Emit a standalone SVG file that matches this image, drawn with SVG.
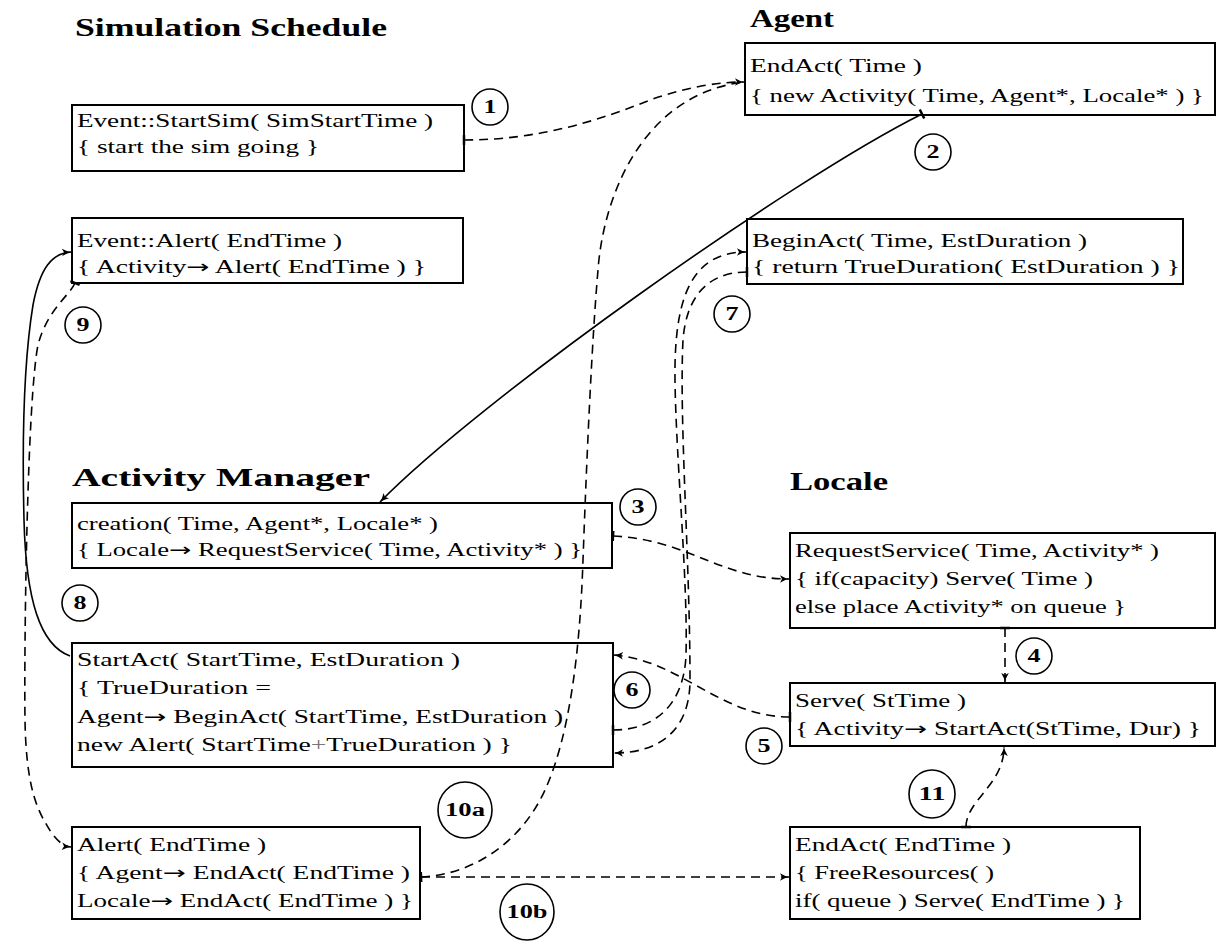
<svg xmlns="http://www.w3.org/2000/svg" width="1217" height="945" viewBox="0 0 1217 945">
<style>
.box{fill:#fff;stroke:#000;stroke-width:2}
.t{font-family:"Liberation Serif",serif;font-size:18px;fill:#000}
.ar{font-family:"DejaVu Sans",sans-serif}
.h{font-family:"Liberation Serif",serif;font-size:25px;font-weight:bold;fill:#000}
.lbl{font-family:"Liberation Serif",serif;font-size:18px;font-weight:bold;text-anchor:middle;fill:#000}
.c{fill:#fff;stroke:#000;stroke-width:1.6}
.d{fill:none;stroke:#000;stroke-width:1.6;stroke-dasharray:9 6}
.s{fill:none;stroke:#000;stroke-width:1.6}
</style>
<defs>
<marker id="arr" viewBox="-10 -5 12 10" markerWidth="12" markerHeight="10" refX="0" refY="0" orient="auto" markerUnits="userSpaceOnUse">
<path d="M-9,-3.8 Q-4,-0.8 0,0 Q-4,0.8 -9,3.8 L-7,0 Z" fill="#000"/>
</marker>
<marker id="tee" viewBox="-2 -6 4 12" markerWidth="4" markerHeight="12" refX="0" refY="0" orient="auto" markerUnits="userSpaceOnUse">
<path d="M0,-5 L0,5" stroke="#000" stroke-width="2.5"/>
</marker>
</defs>
<rect width="1217" height="945" fill="#fff"/>

<g id="titles">
<text class="h" x="75" y="36" textLength="312" lengthAdjust="spacingAndGlyphs">Simulation Schedule</text>
<text class="h" x="750" y="27" textLength="84" lengthAdjust="spacingAndGlyphs">Agent</text>
<text class="h" x="72" y="486" textLength="298" lengthAdjust="spacingAndGlyphs">Activity Manager</text>
<text class="h" x="790" y="490" textLength="98" lengthAdjust="spacingAndGlyphs">Locale</text>
</g>

<g id="startsim">
<rect class="box" x="72" y="105" width="392" height="66"/>
<text class="t" x="77" y="127" textLength="356" lengthAdjust="spacingAndGlyphs">Event::StartSim( SimStartTime )</text>
<text class="t" x="77" y="153" textLength="242" lengthAdjust="spacingAndGlyphs">{ start the sim going }</text>
</g>

<g id="agent-endact">
<rect class="box" x="745" y="43" width="470" height="72"/>
<text class="t" x="750" y="72" textLength="172" lengthAdjust="spacingAndGlyphs">EndAct( Time )</text>
<text class="t" x="750" y="102" textLength="454" lengthAdjust="spacingAndGlyphs">{ new Activity( Time, Agent*, Locale* ) }</text>
</g>

<g id="event-alert">
<rect class="box" x="72" y="218" width="391" height="65"/>
<text class="t" x="77" y="247" textLength="265" lengthAdjust="spacingAndGlyphs">Event::Alert( EndTime )</text>
<text class="t" x="77" y="273" textLength="349" lengthAdjust="spacingAndGlyphs">{ Activity<tspan class="ar">→</tspan> Alert( EndTime ) }</text>
</g>

<g id="beginact">
<rect class="box" x="747" y="219" width="436" height="65"/>
<text class="t" x="752" y="247" textLength="335" lengthAdjust="spacingAndGlyphs">BeginAct( Time, EstDuration )</text>
<text class="t" x="752" y="273" textLength="428" lengthAdjust="spacingAndGlyphs">{ return TrueDuration( EstDuration ) }</text>
</g>

<g id="creation">
<rect class="box" x="72" y="503" width="540" height="65"/>
<text class="t" x="77" y="530" textLength="361" lengthAdjust="spacingAndGlyphs">creation( Time, Agent*, Locale* )</text>
<text class="t" x="77" y="556" textLength="505" lengthAdjust="spacingAndGlyphs">{ Locale<tspan class="ar">→</tspan> RequestService( Time, Activity* ) }</text>
</g>

<g id="startact">
<rect class="box" x="72" y="643" width="541" height="124"/>
<text class="t" x="77" y="666" textLength="383" lengthAdjust="spacingAndGlyphs">StartAct( StartTime, EstDuration )</text>
<text class="t" x="77" y="694" textLength="194" lengthAdjust="spacingAndGlyphs">{ TrueDuration =</text>
<text class="t" x="77" y="723" textLength="486" lengthAdjust="spacingAndGlyphs">Agent<tspan class="ar">→</tspan> BeginAct( StartTime, EstDuration )</text>
<text class="t" x="77" y="751" textLength="435" lengthAdjust="spacingAndGlyphs">new Alert( StartTime<tspan fill="#777">+</tspan>TrueDuration ) }</text>
</g>

<g id="requestservice">
<rect class="box" x="790" y="533" width="425" height="95"/>
<text class="t" x="795" y="557" textLength="364" lengthAdjust="spacingAndGlyphs">RequestService( Time, Activity* )</text>
<text class="t" x="795" y="585" textLength="298" lengthAdjust="spacingAndGlyphs">{ if(capacity) Serve( Time )</text>
<text class="t" x="795" y="613" textLength="331" lengthAdjust="spacingAndGlyphs">else place Activity* on queue }</text>
</g>

<g id="serve">
<rect class="box" x="790" y="683" width="425" height="63"/>
<text class="t" x="795" y="707" textLength="171" lengthAdjust="spacingAndGlyphs">Serve( StTime )</text>
<text class="t" x="795" y="735" textLength="406" lengthAdjust="spacingAndGlyphs">{ Activity<tspan class="ar">→</tspan> StartAct(StTime, Dur) }</text>
</g>

<g id="alert">
<rect class="box" x="72" y="827" width="348" height="92"/>
<text class="t" x="77" y="851" textLength="189" lengthAdjust="spacingAndGlyphs">Alert( EndTime )</text>
<text class="t" x="77" y="879" textLength="333" lengthAdjust="spacingAndGlyphs">{ Agent<tspan class="ar">→</tspan> EndAct( EndTime )</text>
<text class="t" x="77" y="907" textLength="336" lengthAdjust="spacingAndGlyphs">Locale<tspan class="ar">→</tspan> EndAct( EndTime ) }</text>
</g>

<g id="locale-endact">
<rect class="box" x="790" y="827" width="350" height="92"/>
<text class="t" x="795" y="851" textLength="216" lengthAdjust="spacingAndGlyphs">EndAct( EndTime )</text>
<text class="t" x="795" y="879" textLength="199" lengthAdjust="spacingAndGlyphs">{ FreeResources( )</text>
<text class="t" x="795" y="907" textLength="330" lengthAdjust="spacingAndGlyphs">if( queue ) Serve( EndTime ) }</text>
</g>

<g id="connectors">
<path class="d" d="M464,140 C540,140 600,120 650,100 C690,86 720,82 744,82" marker-start="url(#tee)" marker-end="url(#arr)"/>
<path class="s" d="M922,114 C790,180 480,400 380,502" marker-start="url(#tee)" marker-end="url(#arr)"/>
<path class="d" d="M613,536 C690,540 720,579 789,579" marker-start="url(#tee)" marker-end="url(#arr)"/>
<path class="d" d="M1005,628 L1005,682" marker-start="url(#tee)" marker-end="url(#arr)"/>
<path class="d" d="M790,717 C720,717 680,660 614,655" marker-start="url(#tee)" marker-end="url(#arr)"/>
<path class="d" d="M613,730 C655,730 684,705 686,655 C688,580 676,460 675,380 C674,300 690,252 746,252" marker-start="url(#tee)" marker-end="url(#arr)"/>
<path class="d" d="M747,272 C705,272 686,300 683,340 C679,420 690,560 690,680 C690,730 660,753 614,753" marker-start="url(#tee)" marker-end="url(#arr)"/>
<path class="s" d="M70,656 C40,645 26,600 24,520 C22,440 24,360 33,305 C40,268 52,253 71,252" marker-end="url(#arr)"/>
<path class="d" d="M75,283 C70,295 47,310 38,345 C27,400 24,650 25,720 C26,780 35,805 45,822 C52,835 60,846 71,847" marker-start="url(#tee)" marker-end="url(#arr)"/>
<path class="d" d="M421,877 C470,875 520,845 545,790 C570,735 580,650 583,560 C587,450 592,340 598,270 C603,200 640,95 744,82" marker-start="url(#tee)"/>
<path class="d" d="M421,877 L789,877" marker-end="url(#arr)"/>
<path class="d" d="M966,827 C966,800 1004,785 1004,747" marker-start="url(#tee)" marker-end="url(#arr)"/>
</g>

<g id="labels">
<circle class="c" cx="490" cy="107" r="18"/><text class="lbl" x="490" y="113" textLength="13" lengthAdjust="spacingAndGlyphs">1</text>
<circle class="c" cx="933" cy="152" r="18"/><text class="lbl" x="933" y="158" textLength="13" lengthAdjust="spacingAndGlyphs">2</text>
<circle class="c" cx="638" cy="507" r="18"/><text class="lbl" x="638" y="513" textLength="13" lengthAdjust="spacingAndGlyphs">3</text>
<circle class="c" cx="1034" cy="656" r="18"/><text class="lbl" x="1034" y="662" textLength="13" lengthAdjust="spacingAndGlyphs">4</text>
<circle class="c" cx="764" cy="746" r="18"/><text class="lbl" x="764" y="752" textLength="13" lengthAdjust="spacingAndGlyphs">5</text>
<circle class="c" cx="632" cy="690" r="18"/><text class="lbl" x="632" y="696" textLength="13" lengthAdjust="spacingAndGlyphs">6</text>
<circle class="c" cx="732" cy="314" r="18"/><text class="lbl" x="732" y="320" textLength="13" lengthAdjust="spacingAndGlyphs">7</text>
<circle class="c" cx="80" cy="603" r="18"/><text class="lbl" x="80" y="609" textLength="13" lengthAdjust="spacingAndGlyphs">8</text>
<circle class="c" cx="83" cy="325" r="18"/><text class="lbl" x="83" y="331" textLength="13" lengthAdjust="spacingAndGlyphs">9</text>
<ellipse class="c" cx="465" cy="810" rx="27" ry="28"/><text class="lbl" x="465" y="816" textLength="40" lengthAdjust="spacingAndGlyphs">10a</text>
<ellipse class="c" cx="527" cy="912" rx="27" ry="28"/><text class="lbl" x="527" y="918" textLength="41" lengthAdjust="spacingAndGlyphs">10b</text>
<ellipse class="c" cx="932" cy="794" rx="23" ry="24"/><text class="lbl" x="932" y="800" textLength="27" lengthAdjust="spacingAndGlyphs">11</text>
</g>
</svg>
